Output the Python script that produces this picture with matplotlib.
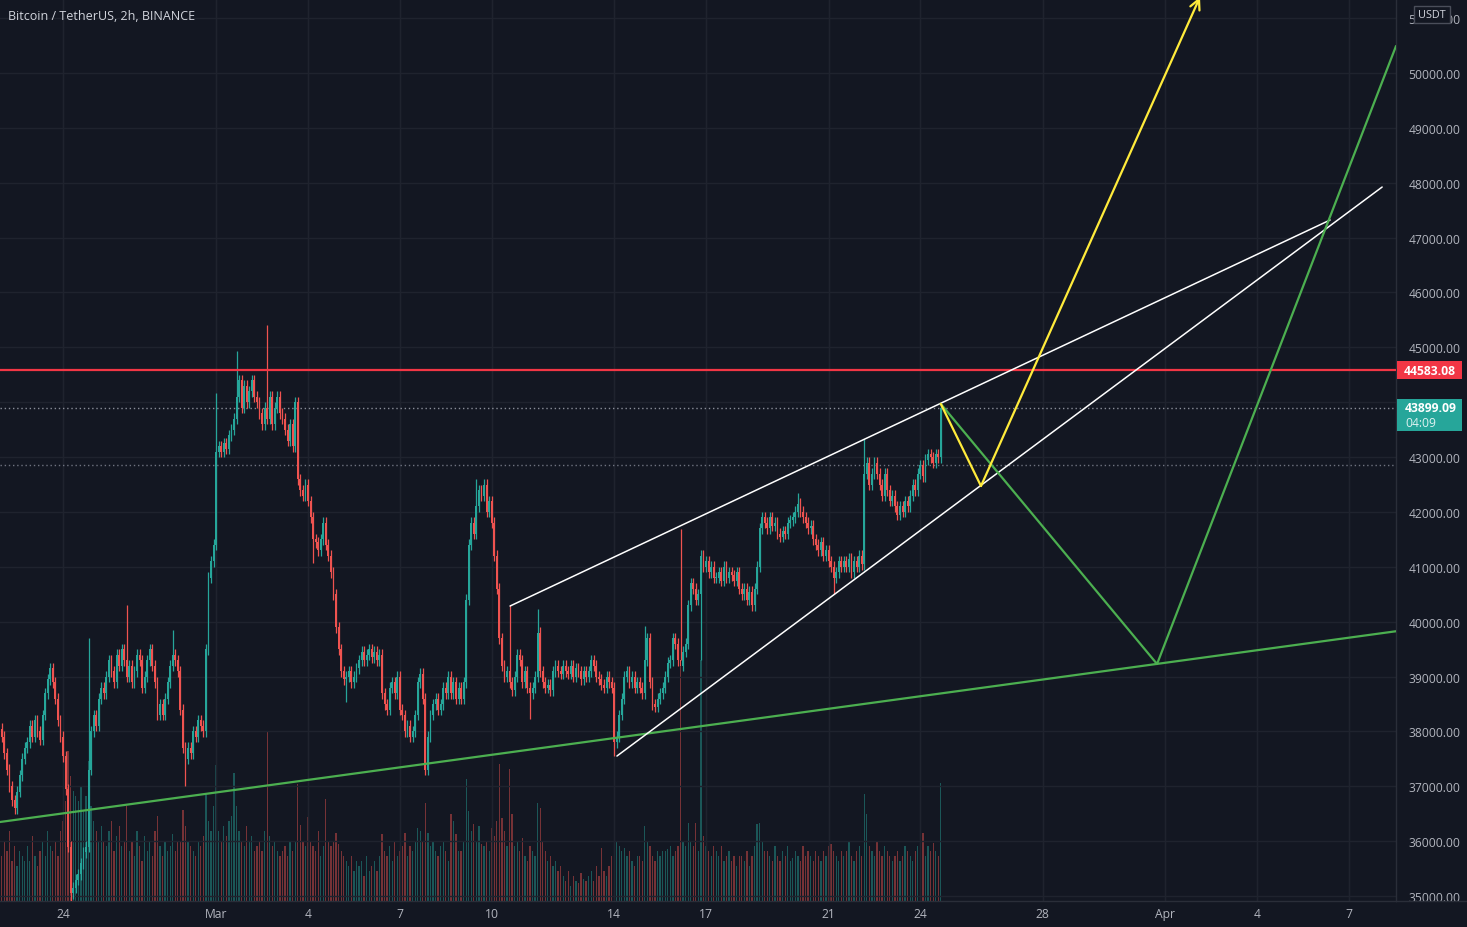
import numpy as np
import pandas as pd
import matplotlib
matplotlib.use("Agg")
import matplotlib.pyplot as plt
import matplotlib.dates as mdates
from matplotlib.patches import Rectangle
from matplotlib.lines import Line2D
from matplotlib.transforms import blended_transform_factory

# ---------------- data ----------------
title = "Bitcoin / TetherUS, 2h, BINANCE"
first_bar = "2022-02-22 00:00"
bar_freq = "2h"
first_open = 38050

closes = [
    37900, 37600, 37300, 37000, 36750, 36600, 36900, 37200, 37500, 37700,
    37800, 38100, 37900, 38200, 38000, 37850, 38300, 38700, 38950, 39150,
    38900, 38600, 38200, 37900, 37550, 36950, 35900, 35050, 35150, 35300,
    35400, 35600, 35800, 35900, 37300, 38000, 38300, 38100, 38600, 38800,
    38700, 39000, 39300, 39100, 38900, 39400, 39200, 39500, 39300, 39000,
    39200, 38900, 39100, 39400, 39300, 38800, 39000, 39300, 39500, 39200,
    38900, 38300, 38500, 38300, 38600, 38900, 39200, 39400, 39300, 39100,
    38400, 37700, 37500, 37700, 37600, 38000, 37900, 38200, 38100, 38000,
    39500, 40800, 41100, 41400, 43100, 43200, 43100, 43250, 43150, 43400,
    43500, 43700, 44100, 44400, 43900, 44300, 44000, 44200, 44400, 44100,
    44000, 43800, 43600, 43900, 43700, 44100, 43600, 43900, 44100, 43800,
    43700, 43500, 43300, 43600, 43200, 44000, 42600, 42400, 42300, 42500,
    42200, 41900, 41500, 41450, 41300, 41500, 41800, 41400, 41200, 40900,
    40500, 39900, 39500, 39100, 38950, 39000, 39100, 38900, 39000, 39150,
    39300, 39450, 39300, 39400, 39500, 39350, 39450, 39300, 39400, 38700,
    38500, 38400, 38800, 38900, 38700, 39000, 38400, 38300, 38000, 38100,
    37900, 38000, 38300, 38900, 39050, 38600, 37300, 37900, 38300, 38500,
    38600, 38400, 38500, 38800, 38700, 39000, 38700, 38900, 38600, 38800,
    38600, 38900, 40400, 41400, 41800, 41600, 42100, 42400, 42300, 42500,
    42000, 42200, 41800, 41200, 40600, 39700, 39200, 39000, 39100, 38900,
    38750, 39000, 39400, 39300, 38900, 39100, 38800, 38700, 38800, 39000,
    39800, 39100, 38900, 38800, 38850, 38750, 39100, 39200, 39100, 39050,
    39200, 39100, 39050, 39200, 39000, 39150, 39100, 38950, 39100, 39000,
    39100, 39300, 39200, 39000, 38950, 38850, 38800, 39000, 38900, 38800,
    37800, 37900, 38300, 38600, 39000, 39100, 38900, 39000, 38800, 38900,
    38800, 38700, 39300, 39700, 38900, 38500, 38450, 38600, 38700, 38800,
    39000, 39250, 39300, 39700, 39600, 39300, 39200, 39450, 39600, 40300,
    40700, 40600, 40400, 40500, 41200, 41000, 41100, 40900, 41000, 40800,
    40800, 40900, 40750, 41000, 40800, 40900, 40850, 40750, 40900, 40600,
    40500, 40600, 40400, 40550, 40300, 40600, 41000, 41700, 41900, 41800,
    41700, 41900, 41750, 41800, 41600, 41550, 41650, 41600, 41800, 41850,
    41900, 42000, 42150, 42000, 41900, 41800, 41700, 41750, 41500, 41400,
    41300, 41450, 41200, 41300, 41100, 41000, 40800, 40900, 41100, 41000,
    41100, 41000, 41150, 40900, 41100, 41000, 41200, 41050, 42700, 42900,
    42500, 42700, 42900, 42700, 42500, 42300, 42700, 42400, 42200, 42300,
    42100, 41950, 42100, 42000, 42200, 42100, 42300, 42500, 42400, 42700,
    42850, 42650, 42950, 43050, 43000, 42900, 43050, 43000, 43899.09,
]

volumes = [
    45, 60, 50, 70, 40, 55, 35, 50, 45, 40,
    55, 40, 65, 45, 35, 50, 60, 45, 70, 55,
    50, 60, 45, 70, 80, 100, 150, 125, 110, 105,
    100, 115, 90, 105, 140, 95, 80, 70, 60, 75,
    60, 55, 70, 80, 50, 65, 75, 55, 60, 95,
    50, 60, 45, 70, 55, 40, 65, 50, 60, 45,
    70, 85, 55, 45, 60, 50, 55, 67, 50, 60,
    60, 91, 75, 60, 55, 50, 45, 60, 55, 65,
    106, 80, 70, 95, 136, 70, 60, 75, 65, 80,
    85, 128, 95, 70, 60, 55, 75, 60, 65, 50,
    55, 60, 50, 70, 169, 65, 55, 60, 50, 45,
    50, 55, 45, 60, 50, 60, 117, 76, 60, 55,
    84, 60, 55, 50, 70, 45, 55, 102, 60, 55,
    60, 68, 57, 50, 45, 40, 35, 45, 30, 40,
    35, 40, 25, 45, 30, 35, 40, 30, 45, 67,
    50, 45, 55, 40, 60, 45, 50, 55, 68, 45,
    55, 50, 60, 73, 70, 60, 98, 68, 55, 60,
    50, 45, 55, 60, 50, 40, 87, 80, 67, 50,
    50, 60, 122, 90, 70, 77, 60, 75, 57, 55,
    60, 50, 73, 65, 80, 137, 83, 70, 55, 132,
    87, 55, 60, 50, 63, 45, 40, 55, 50, 45,
    98, 93, 60, 50, 40, 45, 35, 40, 30, 35,
    25, 20, 30, 15, 25, 20, 18, 28, 22, 20,
    25, 30, 20, 35, 25, 53, 30, 25, 35, 45,
    83, 60, 55, 50, 53, 45, 50, 40, 35, 45,
    45, 40, 75, 60, 55, 45, 40, 50, 45, 50,
    50, 52, 55, 45, 50, 55, 240, 60, 55, 78,
    60, 55, 78, 50, 240, 65, 55, 50, 45, 55,
    50, 45, 55, 40, 45, 50, 40, 45, 35, 45,
    45, 40, 50, 35, 45, 55, 77, 78, 60, 50,
    50, 45, 40, 55, 45, 40, 50, 45, 55, 40,
    43, 50, 45, 40, 55, 45, 50, 45, 40, 50,
    45, 40, 50, 45, 55, 57, 50, 45, 40, 50,
    45, 50, 60, 45, 40, 50, 55, 45, 107, 87,
    55, 50, 45, 60, 50, 45, 55, 50, 45, 40,
    45, 50, 40, 45, 55, 50, 45, 40, 50, 55,
    50, 68, 45, 55, 50, 58, 50, 45, 118,
]

wick_default = 100
wick_high = {20: 39250, 34: 39700, 49: 40300, 67: 39850, 84: 44170, 92: 44930,
             104: 45400, 115: 44100, 186: 42600, 199: 40300, 210: 40230,
             252: 39920, 266: 41690, 312: 42350, 338: 43330, 368: 43970}
wick_low = {5: 36500, 27: 34600, 72: 37000, 122: 41070, 135: 38540, 166: 37200,
            207: 38230, 240: 37550, 266: 39300, 274: 39300, 293: 40300,
            326: 40500}

resistance_price = 44583.08
last_price = 43899.09
countdown = "04:09"
dotted_level = 42856

price_ticks = list(range(35000, 51001, 1000))
date_ticks = ["2022-02-24", "2022-03-01", "2022-03-04", "2022-03-07", "2022-03-10",
              "2022-03-14", "2022-03-17", "2022-03-21", "2022-03-24", "2022-03-28",
              "2022-04-01", "2022-04-04", "2022-04-07"]
date_labels = ["24", "Mar", "4", "7", "10", "14", "17", "21", "24", "28", "Apr", "4", "7"]

upper_channel = (["2022-03-10 14:24", "2022-04-06 09:07"], [40286, 47321])
lower_channel = (["2022-03-14 02:10", "2022-04-08 01:55"], [37552, 47922])
support_line = (["2022-02-21 22:38", "2022-04-08 14:00"], [36350, 39830])
yellow_path = (["2022-03-24 16:00", "2022-03-25 23:30", "2022-04-02 03:10"], [43970, 42473, 51385])
green_path = (["2022-03-24 16:00", "2022-03-31 17:30", "2022-04-08 12:48"], [43970, 39229, 50492])

x_range = ("2022-02-21 22:37", "2022-04-08 12:47")
y_range = (34910, 51349)

# ---------------- style ----------------
BG = "#131722"
GRID = "#1f232e"
TEXT = "#b2b5be"
UP = "#26a69a"
DOWN = "#ef5350"
RED = "#f23645"
plt.rcParams["font.family"] = ["Open Sans", "DejaVu Sans"]

W, H = 1467, 928
fig = plt.figure(figsize=(W / 100, H / 100), dpi=100, facecolor=BG)
ax_rect = [0, 26 / H, 1396 / W, 902 / H]
axv = fig.add_axes(ax_rect)
ax = fig.add_axes(ax_rect, sharex=axv)
axv.set_zorder(1)
ax.set_zorder(2)
axv.set_facecolor(BG)
ax.patch.set_alpha(0)


def dn(s):
    return mdates.date2num(pd.Timestamp(s).to_pydatetime())


times = pd.date_range(first_bar, periods=len(closes), freq=bar_freq)
xs = mdates.date2num(times.to_pydatetime())
c = np.array(closes, dtype=float)
o = np.array([first_open] + closes[:-1], dtype=float)
hi = np.maximum(o, c) + wick_default
lo = np.minimum(o, c) - wick_default
for k, v in wick_high.items():
    hi[k] = v
for k, v in wick_low.items():
    lo[k] = v
up = c >= o
cols = np.where(up, UP, DOWN)
bw = 1 / 12

# volume
axv.bar(xs, volumes, width=bw * 0.5, color=cols, alpha=0.45, linewidth=0)
axv.set_ylim(0, 900)
axv.set_yticks([])
for s in axv.spines.values():
    s.set_visible(False)
axv.tick_params(axis="x", length=0, labelbottom=False)

# candles
ax.vlines(xs, lo, hi, colors=cols, linewidth=0.9, zorder=3)
ax.bar(xs, np.maximum(np.abs(c - o), 20), bottom=np.minimum(o, c), width=bw * 0.72,
       color=cols, linewidth=0, zorder=3)

# levels
ax.axhline(resistance_price, color=RED, lw=1.6, zorder=4)
ax.axhline(last_price, color="#8a8e99", lw=1.0, ls=(0, (1, 2)), zorder=2)
ax.axhline(dotted_level, color="#6f7380", lw=1.0, ls=(0, (1, 2)), zorder=2)


# drawings
def draw(path, color, lw):
    ax.plot([dn(t) for t in path[0]], path[1], color=color, lw=lw, zorder=5,
            solid_capstyle="round")


draw(support_line, "#4caf50", 1.6)
draw(upper_channel, "#ffffff", 1.1)
draw(lower_channel, "#ffffff", 1.1)
draw(green_path, "#4caf50", 1.6)
draw((yellow_path[0][:2], yellow_path[1][:2]), "#ffeb3b", 1.6)
ax.annotate("", xy=(dn(yellow_path[0][2]), yellow_path[1][2]),
            xytext=(dn(yellow_path[0][1]), yellow_path[1][1]),
            arrowprops=dict(arrowstyle="->", color="#ffeb3b", lw=1.6,
                            mutation_scale=18, shrinkA=0, shrinkB=0),
            annotation_clip=False, zorder=5)

# axes
ax.set_xlim(dn(x_range[0]), dn(x_range[1]))
ax.set_ylim(*y_range)
ax.set_yticks(price_ticks)
ax.set_yticklabels([f"{p:.2f}" for p in price_ticks])
ax.yaxis.tick_right()
ax.set_xticks([dn(d) for d in date_ticks])
ax.set_xticklabels(date_labels)
ax.tick_params(axis="y", length=0, pad=9, labelsize=8.7, labelcolor=TEXT)
ax.tick_params(axis="x", length=0, pad=4.5, labelsize=8.7, labelcolor=TEXT)
ax.grid(True, color=GRID, lw=1.0, zorder=0)
axv.set_xticks([dn(d) for d in date_ticks])
axv.grid(True, axis="x", color=GRID, lw=1.0)
ax.set_axisbelow(True)
for name, s in ax.spines.items():
    if name in ("right", "bottom"):
        s.set_color("#2a2e39")
        s.set_linewidth(1.0)
    else:
        s.set_visible(False)

fig.add_artist(Line2D([1396 / W, 1], [26 / H, 26 / H], color="#2a2e39", lw=1.0,
                      transform=fig.transFigure, zorder=11))
fig.add_artist(Rectangle((1397 / W, 0), 70 / W, 25.5 / H, facecolor=BG, edgecolor="none",
                         transform=fig.transFigure, zorder=10))

# price labels on the axis
tr = blended_transform_factory(ax.transAxes, ax.transData)
px = (y_range[1] - y_range[0]) / 902.0
ax.add_patch(Rectangle((1.0007, resistance_price - 9 * px), 65 / 1396, 18 * px,
                       facecolor=RED, edgecolor="none", transform=tr, clip_on=False, zorder=20))
ax.text(1 + 33.5 / 1396, resistance_price, f"{resistance_price:.2f}", transform=tr,
        ha="center", va="center", color="white", fontsize=8.7, fontweight="bold",
        clip_on=False, zorder=21)
ax.add_patch(Rectangle((1.0007, last_price - 23 * px), 65 / 1396, 32 * px,
                       facecolor=UP, edgecolor="none", transform=tr, clip_on=False, zorder=20))
ax.text(1 + 9 / 1396, last_price, f"{last_price:.2f}", transform=tr,
        ha="left", va="center", color="white", fontsize=8.7, fontweight="bold",
        clip_on=False, zorder=21)
ax.text(1 + 9 / 1396, last_price - 15 * px, countdown, transform=tr,
        ha="left", va="center", color="#e0f2f1", fontsize=8.7,
        clip_on=False, zorder=21)
# currency box
ax.add_patch(Rectangle((1 + 18 / 1396, y_range[1] - 24 * px), 36 / 1396, 17 * px,
                       facecolor=BG, edgecolor="#4a4e5a", lw=1.0, transform=tr,
                       clip_on=False, zorder=20))
ax.text(1 + 36 / 1396, y_range[1] - 15.5 * px, "USDT", transform=tr, ha="center",
        va="center", color="#d1d4dc", fontsize=7.8, clip_on=False, zorder=21)

fig.text(8 / W, 1 - 16 / H, title, ha="left", va="center", color="#d1d4dc", fontsize=9)

fig.savefig("out.png", dpi=100, facecolor=BG)
